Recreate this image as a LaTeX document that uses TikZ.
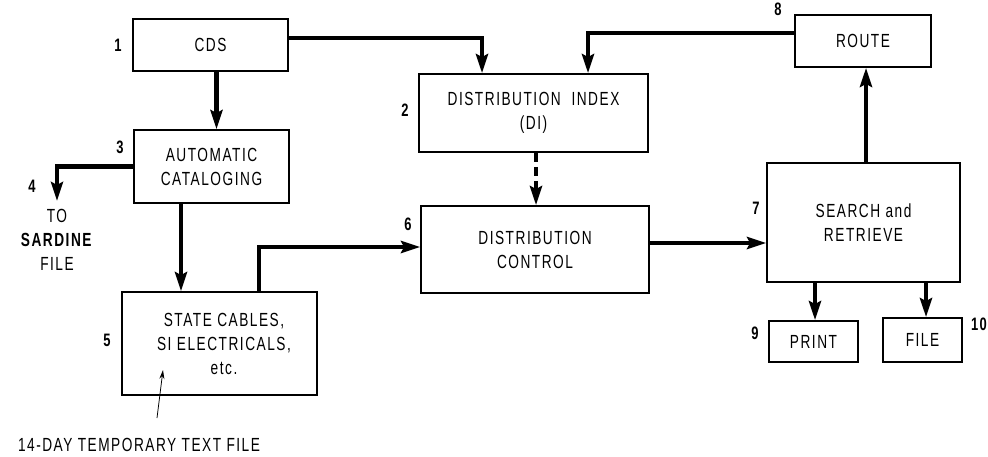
\documentclass[tikz,border=0pt]{standalone}
\usepackage{fontspec}
\setmainfont[FakeStretch=0.72,LetterSpace=8]{Liberation Sans}
\usetikzlibrary{arrows.meta}
\begin{document}
\begin{tikzpicture}[x=1pt,y=-1pt,
  box/.style={draw,line width=1.8pt,inner sep=0pt,align=center,
    font=\fontsize{19}{24}\selectfont},
  num/.style={font=\fontsize{18}{18}\selectfont\bfseries},
  plain/.style={font=\fontsize{19}{24}\selectfont},
  arr/.style={line width=4.2pt,-{Stealth[length=19pt,width=12pt,inset=3pt]}},
  dasharr/.style={arr,dash pattern=on 9pt off 5pt},
  thinarr/.style={line width=0.8pt,-{Stealth[length=9pt,width=5pt]}}]
\useasboundingbox (0,0) rectangle (988,457);

% blocks
\node[box,minimum width=155pt,minimum height=52pt] (cds) at (210.5,45) {CDS};
\node[box,minimum width=229pt,minimum height=78pt] (di) at (533.5,113) {DISTRIBUTION\ \ INDEX\\(DI)};
\node[box,minimum width=136pt,minimum height=52pt] (route) at (863,41) {ROUTE};
\node[box,minimum width=155pt,minimum height=73pt] (ac) at (211.5,166.5) {AUTOMATIC\\CATALOGING};
\node[box,minimum width=195pt,minimum height=103pt] (sc) at (219.5,343.5) {\hspace*{9pt}STATE CABLES,\\\hspace*{9pt}SI ELECTRICALS,\\\hspace*{9pt}etc.};
\node[box,minimum width=228pt,minimum height=87pt] (dc) at (535,249.5) {DISTRIBUTION\\CONTROL};
\node[box,minimum width=193pt,minimum height=119pt] (sr) at (863.5,222.5) {SEARCH and\\RETRIEVE};
\node[box,minimum width=89pt,minimum height=41pt] (print) at (813.5,341.5) {PRINT};
\node[box,minimum width=79pt,minimum height=44pt] (file) at (922.5,340) {FILE};

% block numbers
\node[num] (n1) at (118,45) {1};
\node[num] (n2) at (405,110) {2};
\node[num] (n3) at (120,147) {3};
\node[num] (n4) at (32,186) {4};
\node[num] (n5) at (107,340) {5};
\node[num] (n6) at (408,224) {6};
\node[num] (n7) at (756,208) {7};
\node[num] (n8) at (778,9) {8};
\node[num] (n9) at (755,333) {9};
\node[num] (n10) at (979,324) {10};

% sardine output
\coordinate (sard) at (57,201);
\node[plain,align=center,anchor=north] (sardtxt) at (57,206)
  {TO\\\textbf{SARDINE}\\FILE};

% annotation
\node[plain] (tmp) at (139,445) {14-DAY TEMPORARY TEXT FILE};
\coordinate (tmpfrom) at (157,418);
\coordinate (tmpto) at (163,370);

% connectors
\draw[arr] ([yshift=7pt]cds.east) -| ([xshift=-51.5pt]di.north);
\draw[arr] ([yshift=8pt]route.west) -| ([xshift=54.5pt]di.north);
\draw[arr] ([xshift=6pt]cds.south) -- ([xshift=5pt]ac.north);
\draw[arr] (ac.west) -| (sard);
\draw[arr] ([xshift=-30.5pt]ac.south) -- ([xshift=-38.5pt]sc.north);
\draw[arr] ([xshift=39.5pt]sc.north) |- ([yshift=2.5pt]dc.west);
\draw[dasharr] ([xshift=2.5pt]di.south) -- ([xshift=1pt]dc.north);
\draw[arr] ([yshift=6.5pt]dc.east) -- ([yshift=6.5pt]dc.east -| sr.west);
\draw[arr] ([xshift=2.5pt]sr.north) -- ([xshift=3pt]route.south);
\draw[arr] ([xshift=1.5pt]print.north |- sr.south) -- ([xshift=1.5pt]print.north);
\draw[arr] ([xshift=3.5pt]file.north |- sr.south) -- ([xshift=3.5pt]file.north);
\draw[thinarr] (tmpfrom) -- (tmpto);
\end{tikzpicture}
\end{document}
